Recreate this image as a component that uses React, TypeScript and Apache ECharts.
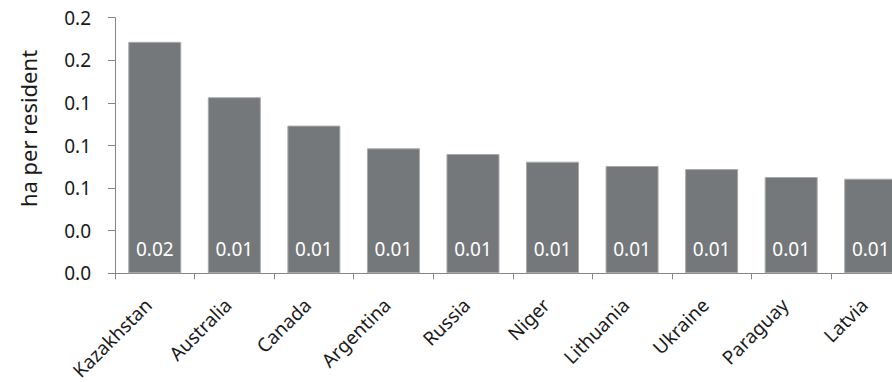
import React, { useEffect, useRef } from "react";
import * as echarts from "echarts";

const countries = ["Kazakhstan", "Australia", "Canada", "Argentina", "Russia", "Niger", "Lithuania", "Ukraine", "Paraguay", "Latvia"];
const haPerResident = [0.0163, 0.0124, 0.0104, 0.0088, 0.0084, 0.00786, 0.00756, 0.00734, 0.00678, 0.00666];
const tickStep = 0.003;
const tickLabels = ["0.0", "0.0", "0.1", "0.1", "0.1", "0.2", "0.2"];

const FONT = "'Noto Sans', 'Open Sans', sans-serif";

export default function App() {
  const ref = useRef<HTMLDivElement>(null);
  useEffect(() => {
    if (!ref.current) return;
    const chart = echarts.init(ref.current, undefined, { renderer: "svg" });
    chart.setOption({
      animation: false,
      backgroundColor: "#ffffff",
      grid: { left: 115, width: 795.5, top: 17.7, height: 255.6, containLabel: false, outerBoundsMode: "none" },
      xAxis: {
        type: "category",
        data: countries,
        axisLine: { lineStyle: { color: "#868686", width: 1 } },
        axisTick: { show: true, length: 6, lineStyle: { color: "#868686" } },
        axisLabel: {
          rotate: 45,
          interval: 0,
          margin: 22,
          padding: [0, 9, 0, 0],
          color: "#1a1a1a",
          fontSize: 19,
          fontFamily: FONT,
        },
      },
      yAxis: {
        type: "value",
        min: 0,
        max: tickStep * (tickLabels.length - 1),
        interval: tickStep,
        name: "ha per resident",
        nameLocation: "middle",
        nameGap: 76,
        nameTextStyle: { color: "#1a1a1a", fontSize: 22, fontFamily: FONT, padding: [0, 0, 0, 34] },
        axisLine: { show: true, lineStyle: { color: "#868686", width: 1 } },
        axisTick: { show: true, length: 7, lineStyle: { color: "#868686" } },
        splitLine: { show: false },
        axisLabel: {
          margin: 24,
          color: "#1a1a1a",
          fontSize: 19,
          fontFamily: FONT,
          formatter: (v: number) => tickLabels[Math.round(v / tickStep)] ?? "",
        },
      },
      series: [
        {
          type: "bar",
          data: haPerResident,
          barWidth: 53,
          itemStyle: { color: "#75787b", borderColor: "#a9a9a9", borderWidth: 1 },
          label: {
            show: true,
            position: "insideBottom",
            distance: 15,
            color: "#ffffff",
            fontSize: 19,
            fontFamily: FONT,
            formatter: (p: any) => (p.value as number).toFixed(2),
          },
        },
      ],
    });
    return () => chart.dispose();
  }, []);
  return <div ref={ref} style={{ position: "fixed", left: 0, top: 0, width: 892, height: 382 }} />;
}
